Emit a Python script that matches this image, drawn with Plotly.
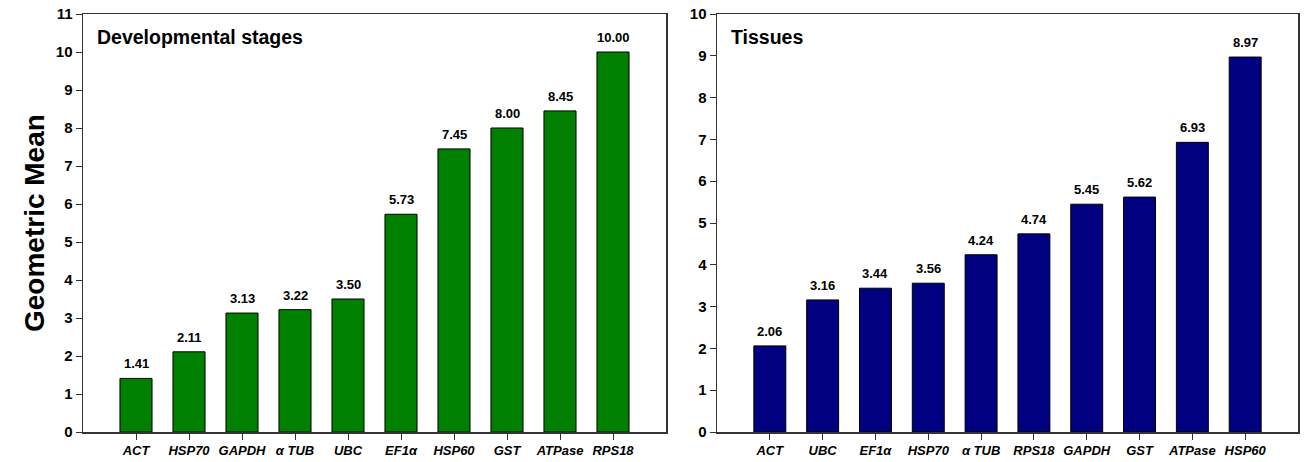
import plotly.graph_objects as go

dev_genes = ["ACT", "HSP70", "GAPDH", "α TUB", "UBC", "EF1α", "HSP60", "GST", "ATPase", "RPS18"]
dev_values = [1.41, 2.11, 3.13, 3.22, 3.50, 5.73, 7.45, 8.00, 8.45, 10.00]

tis_genes = ["ACT", "UBC", "EF1α", "HSP70", "α TUB", "RPS18", "GAPDH", "GST", "ATPase", "HSP60"]
tis_values = [2.06, 3.16, 3.44, 3.56, 4.24, 4.74, 5.45, 5.62, 6.93, 8.97]

FONT = "Liberation Sans, Arial, sans-serif"
W, H = 1306, 462


def px_x(x):
    return x / W


def px_y(y):
    return 1 - y / H


fig = go.Figure()

panels = [
    dict(genes=dev_genes, vals=dev_values, color="#008000", xa="x", ya="y",
         dom=[px_x(83), px_x(666)], yr=[0, 11], title="Developmental stages", tx=95),
    dict(genes=tis_genes, vals=tis_values, color="#000080", xa="x2", ya="y2",
         dom=[px_x(717), px_x(1298)], yr=[0, 10], title="Tissues", tx=729),
]

ydom = [px_y(432), px_y(14)]
annotations = []
for i, p in enumerate(panels):
    idx = list(range(len(p["genes"])))
    fig.add_trace(go.Bar(
        x=idx, y=p["vals"], width=0.605,
        marker=dict(color=p["color"], line=dict(color="black", width=1)),
        xaxis=p["xa"], yaxis=p["ya"], showlegend=False, hoverinfo="skip",
    ))
    for k, v in zip(idx, p["vals"]):
        annotations.append(dict(
            x=k, y=v, xref=p["xa"], yref=p["ya"], text=f"<b>{v:.2f}</b>",
            showarrow=False, yanchor="bottom", yshift=5,
            font=dict(family=FONT, size=13, color="black"),
        ))
    annotations.append(dict(
        x=px_x(p["tx"]), y=px_y(37), xref="paper", yref="paper",
        text=f"<b>{p['title']}</b>", showarrow=False, xanchor="left", yanchor="middle",
        font=dict(family=FONT, size=19.5, color="black"),
    ))
    suffix = "" if i == 0 else "2"
    fig.update_layout(**{
        "xaxis" + suffix: dict(
            domain=p["dom"], range=[-1, 10], anchor=p["ya"],
            tickmode="array", tickvals=idx,
            ticktext=[f"<b><i>{g}</i></b>" for g in p["genes"]],
            ticks="outside", ticklen=6, tickcolor="#333", tickwidth=1,
            showline=True, linecolor="#333", linewidth=1.5, mirror=True,
            showgrid=False, zeroline=False, automargin=False, fixedrange=True,
            tickfont=dict(family=FONT, size=13, color="black"),
        ),
        "yaxis" + suffix: dict(
            domain=ydom, range=p["yr"], anchor=p["xa"],
            tickmode="linear", tick0=0, dtick=1,
            ticks="outside", ticklen=6, tickcolor="#333", tickwidth=1,
            showline=True, linecolor="#333", linewidth=1.5, mirror=True,
            showgrid=False, zeroline=False, automargin=False, fixedrange=True,
            tickfont=dict(family=FONT, size=15, color="black"),
            tickprefix="<b>", ticksuffix="</b>",
        ),
    })

annotations.append(dict(
    x=px_x(35), y=0.5 * (ydom[0] + ydom[1]), xref="paper", yref="paper",
    text="<b>Geometric Mean</b>", textangle=-90, showarrow=False,
    xanchor="center", yanchor="middle",
    font=dict(family=FONT, size=28, color="black"),
))

fig.update_layout(
    template="none",
    width=W, height=H,
    margin=dict(l=0, r=0, t=0, b=0, autoexpand=False),
    paper_bgcolor="white", plot_bgcolor="white",
    annotations=annotations,
    bargap=0,
)

fig.write_html(
    "out.html",
    config={"displayModeBar": False, "staticPlot": True},
    post_script="document.body.style.margin='0';document.body.style.overflow='hidden';",
)
